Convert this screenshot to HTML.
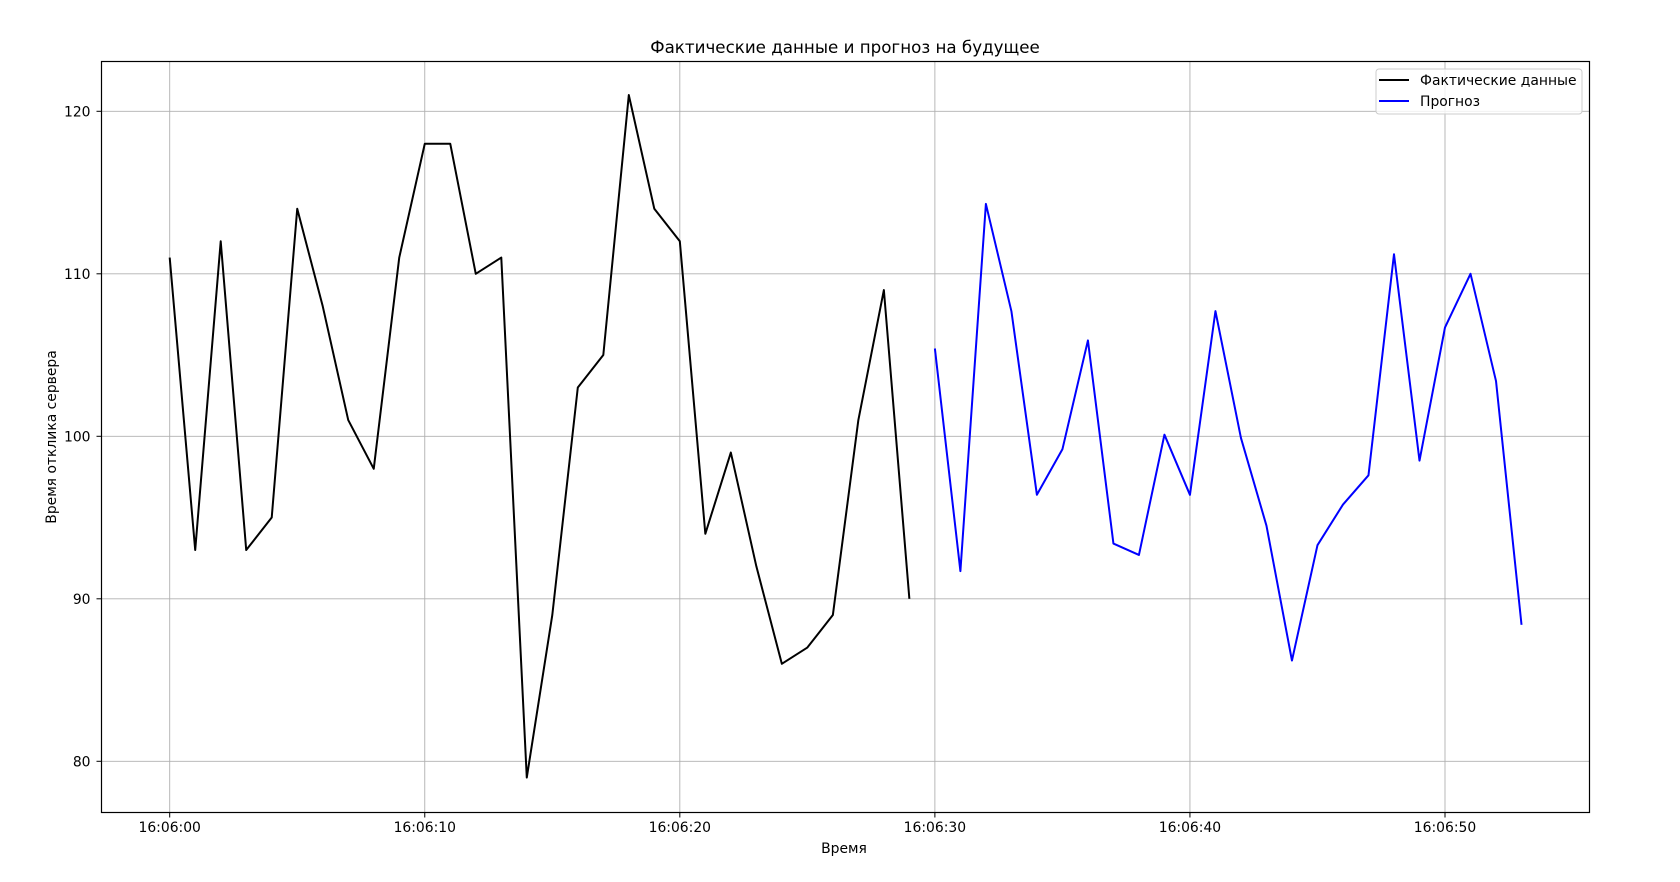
<!DOCTYPE html>
<html><head><meta charset="utf-8"><style>
html,body{margin:0;padding:0;background:#fff;}
svg{display:block;font-family:"DejaVu Sans","Liberation Sans",sans-serif;}
</style></head><body>
<svg id="chart" width="1680" height="882" viewBox="0 0 1680 882">
<rect width="1680" height="882" fill="#fff"/>
<text x="845" y="53" text-anchor="middle" font-size="16.7" fill="#000">Фактические данные и прогноз на будущее</text>
<g id="grid"></g>
<g id="ticks"></g>
<g id="series"></g>
<rect x="101.5" y="61.5" width="1488" height="751" fill="none" stroke="#000" stroke-width="1.2"/>
<text x="844" y="853" text-anchor="middle" font-size="13.9">Время</text>
<text transform="translate(56,437) rotate(-90)" text-anchor="middle" font-size="13.9">Время отклика сервера</text>
<g>
<rect x="1376" y="69" width="206" height="45" rx="3" fill="#fff" fill-opacity="0.8" stroke="#ccc"/>
<line x1="1379" y1="80" x2="1409" y2="80" stroke="#000" stroke-width="2"/>
<text x="1420" y="85" font-size="13.9">Фактические данные</text>
<line x1="1379" y1="101" x2="1409" y2="101" stroke="#00f" stroke-width="2"/>
<text x="1420" y="106" font-size="13.9">Прогноз</text>
</g>
</svg>
<script>
const actualValues=[111,93,112,93,95,114,108,101,98,111,118,118,110,111,79,89,103,105,121,114,112,94,99,92,86,87,89,101,109,90];
const forecastValues=[105.4,91.7,114.3,107.7,96.4,99.2,105.9,93.4,92.7,100.1,96.4,107.7,99.9,94.5,86.2,93.3,95.8,97.6,111.2,98.5,106.7,110.0,103.4,88.4];
const forecastStart=30;
const xTickSeconds=[0,10,20,30,40,50];
const xTickLabels=["16:06:00","16:06:10","16:06:20","16:06:30","16:06:40","16:06:50"];
const yTickValues=[80,90,100,110,120];
const yTickLabels=["80","90","100","110","120"];

const X0=101.5,X1=1589.5,Y0=61.5,Y1=812.5;
function xs(s){return 169.7+s*25.506;}
function ys(v){return 761.3-(v-80)*16.25;}
const NS="http://www.w3.org/2000/svg";
function mk(tag,attrs,parent){const e=document.createElementNS(NS,tag);for(const k in attrs)e.setAttribute(k,attrs[k]);parent.appendChild(e);return e;}
const grid=document.getElementById('grid'),ticks=document.getElementById('ticks'),series=document.getElementById('series');
xTickSeconds.forEach((s,i)=>{
  const x=xs(s);
  const g=mk('line',{x1:x,y1:Y0,x2:x,y2:Y1,stroke:'#b0b0b0','stroke-width':0.9},grid);
  
  
  const t=mk('line',{x1:x,y1:Y1,x2:x,y2:Y1+5,stroke:'#000','stroke-width':1},ticks);
  
  
  const l=mk('text',{x:x,y:832,'text-anchor':'middle','font-size':13.9},ticks);
  l.textContent=xTickLabels[i];
  
  
});
yTickValues.forEach((v,i)=>{
  const y=ys(v);
  const g=mk('line',{x1:X0,y1:y,x2:X1,y2:y,stroke:'#b0b0b0','stroke-width':0.9},grid);
  
  
  const t=mk('line',{x1:X0-5,y1:y,x2:X0,y2:y,stroke:'#000','stroke-width':1},ticks);
  
  
  const l=mk('text',{x:X0-11,y:y+5,'text-anchor':'end','font-size':13.9},ticks);
  l.textContent=yTickLabels[i];
  
  
});
const pa=actualValues.map((v,i)=>xs(i).toFixed(2)+','+ys(v).toFixed(2)).join(' ');
const la=mk('polyline',{points:pa,fill:'none',stroke:'#000','stroke-width':2,'stroke-linejoin':'round'},series);


const pf=forecastValues.map((v,i)=>xs(forecastStart+i).toFixed(2)+','+ys(v).toFixed(2)).join(' ');
const lf=mk('polyline',{points:pf,fill:'none',stroke:'#00f','stroke-width':2,'stroke-linejoin':'round'},series);


</script>
</body></html>
